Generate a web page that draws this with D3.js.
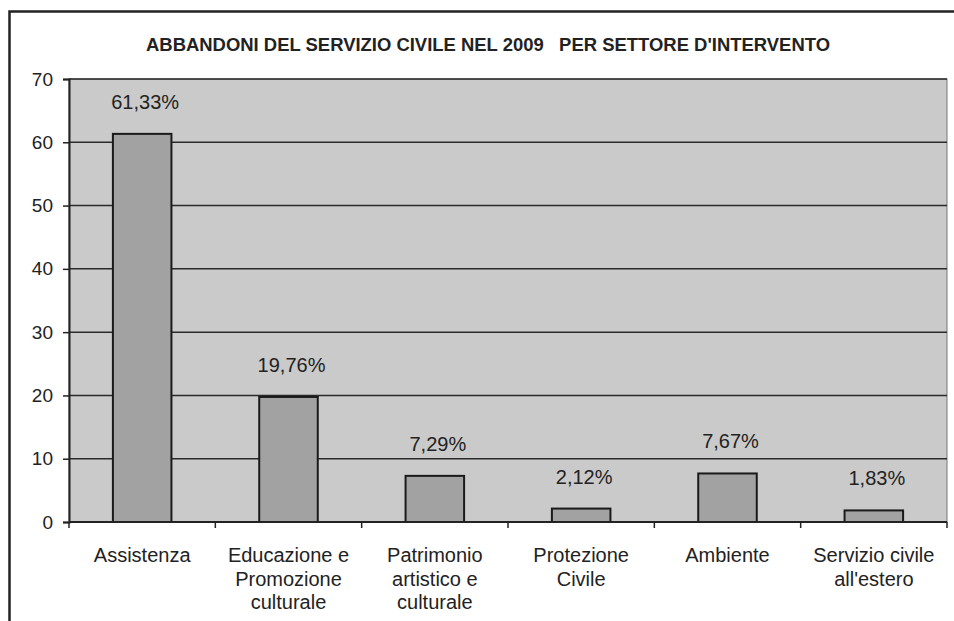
<!DOCTYPE html>
<html>
<head>
<meta charset="utf-8">
<script src="https://cdn.jsdelivr.net/npm/d3@7"></script>
<style>
  body { margin: 0; background: #fff; }
  svg { display: block; }
  text { font-family: Arial, "Liberation Sans", sans-serif; fill: #222; }
  .title { font-family: "Liberation Sans Narrow", "Arial Narrow", Arial, sans-serif; font-weight: bold; white-space: pre; }
</style>
</head>
<body>
<svg id="chart" width="954" height="621"></svg>
<script>
// data
const settori = ["Assistenza", "Educazione e Promozione culturale", "Patrimonio artistico e culturale",
                 "Protezione Civile", "Ambiente", "Servizio civile all'estero"];
const etichette = [["Assistenza"], ["Educazione e", "Promozione", "culturale"], ["Patrimonio", "artistico e", "culturale"],
                   ["Protezione", "Civile"], ["Ambiente"], ["Servizio civile", "all'estero"]];
const percentuali = [61.33, 19.76, 7.29, 2.12, 7.67, 1.83];
const yTicks = [0, 10, 20, 30, 40, 50, 60, 70];

let svg = d3.select("#chart");
let margin = {left: 69, right: 7, top: 79, bottom: 99};
let W = 954, H = 621;

let x = d3.scaleBand()
    .domain(settori)
    .range([margin.left, W - margin.right])
    .padding(0);
let y = d3.scaleLinear()
    .domain([0, 70])
    .range([H - margin.bottom, margin.top]);

// outer frame
svg.append("path")
    .attr("d", "M9.5," + H + " L9.5,11.5 L" + W + ",11.5")
    .attr("fill", "none")
    .attr("stroke", "#222")
    .attr("stroke-width", 2.5);

// title
svg.append("text")
    .attr("class", "title")
    .attr("x", 488)
    .attr("y", 51)
    .attr("text-anchor", "middle")
    .attr("textLength", 684)
    .attr("lengthAdjust", "spacingAndGlyphs")
    .style("font-size", "18px")
    .text("ABBANDONI DEL SERVIZIO CIVILE NEL 2009   PER SETTORE D'INTERVENTO");

// plot area
svg.append("rect")
    .attr("x", margin.left)
    .attr("y", margin.top)
    .attr("width", W - margin.right - margin.left)
    .attr("height", y(0) - margin.top)
    .attr("fill", "#cacaca")
    .attr("stroke", "#777")
    .attr("stroke-width", 1);

// gridlines
svg.append("g")
    .selectAll("line")
    .data(yTicks.filter(d => d > 0))
    .enter().append("line")
    .attr("x1", margin.left)
    .attr("x2", W - margin.right)
    .attr("y1", d => y(d))
    .attr("y2", d => y(d))
    .attr("stroke", "#2a2a2a")
    .attr("stroke-width", 1.5);

// bars
let bw = x.bandwidth() * 0.4;
svg.append("g")
    .selectAll("rect")
    .data(percentuali)
    .enter().append("rect")
    .attr("x", (d, i) => x(settori[i]) + x.bandwidth() / 2 - bw / 2)
    .attr("y", d => y(d))
    .attr("width", bw)
    .attr("height", d => y(0) - y(d))
    .attr("fill", "#a2a2a2")
    .attr("stroke", "#1a1a1a")
    .attr("stroke-width", 2);

// value labels
svg.append("g")
    .selectAll("text")
    .data(percentuali)
    .enter().append("text")
    .attr("x", (d, i) => x(settori[i]) + x.bandwidth() / 2 + 3)
    .attr("y", d => y(d) - 25)
    .attr("text-anchor", "middle")
    .style("font-size", "20px")
    .text(d => d.toFixed(2).replace(".", ",") + "%");

// y axis
let yAxis = d3.axisLeft(y).tickValues(yTicks).tickSize(6).tickPadding(10);
let gy = svg.append("g")
    .attr("transform", "translate(" + margin.left + ",0)")
    .call(yAxis);
gy.select(".domain").attr("stroke", "#222").attr("stroke-width", 2);
gy.selectAll(".tick line").attr("stroke", "#222").attr("stroke-width", 1.5);
gy.selectAll(".tick text")
    .style("font-size", "19px")
    .style("font-family", "Arial, 'Liberation Sans', sans-serif")
    .attr("fill", "#222");

// x axis line and ticks at category boundaries
svg.append("line")
    .attr("x1", margin.left)
    .attr("x2", W - margin.right)
    .attr("y1", y(0))
    .attr("y2", y(0))
    .attr("stroke", "#222")
    .attr("stroke-width", 2);
svg.append("g")
    .selectAll("line")
    .data(settori.concat(["end"]))
    .enter().append("line")
    .attr("x1", (d, i) => i < settori.length ? x(d) : x.range()[1])
    .attr("x2", (d, i) => i < settori.length ? x(d) : x.range()[1])
    .attr("y1", y(0))
    .attr("y2", y(0) + 6)
    .attr("stroke", "#222")
    .attr("stroke-width", 1.5);

// category labels
let cat = svg.append("g")
    .selectAll("text")
    .data(etichette)
    .enter().append("text")
    .attr("text-anchor", "middle")
    .style("font-size", "20px")
    .attr("transform", (d, i) => "translate(" + (x(settori[i]) + x.bandwidth() / 2) + ",562)");
cat.selectAll("tspan")
    .data(d => d)
    .enter().append("tspan")
    .attr("x", 0)
    .attr("y", (d, i) => i * 23.5)
    .text(d => d);
</script>
</body>
</html>
